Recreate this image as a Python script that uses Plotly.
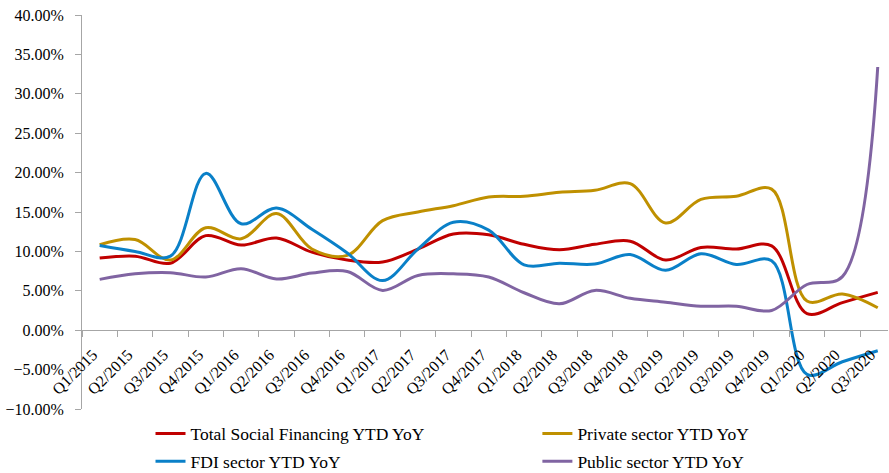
import plotly.graph_objects as go

quarters = [
    "Q1/2015", "Q2/2015", "Q3/2015", "Q4/2015",
    "Q1/2016", "Q2/2016", "Q3/2016", "Q4/2016",
    "Q1/2017", "Q2/2017", "Q3/2017", "Q4/2017",
    "Q1/2018", "Q2/2018", "Q3/2018", "Q4/2018",
    "Q1/2019", "Q2/2019", "Q3/2019", "Q4/2019",
    "Q1/2020", "Q2/2020", "Q3/2020",
]

# YTD year-on-year growth, in percent
total_social_financing = [9.15, 9.4, 8.5, 12.0, 10.8, 11.7, 9.9, 8.9, 8.65, 10.3, 12.2, 12.1,
                          10.9, 10.2, 10.9, 11.3, 8.9, 10.5, 10.3, 10.7, 2.1, 3.5, 4.8]
private_sector = [10.85, 11.5, 8.9, 13.0, 11.6, 14.8, 10.3, 9.5, 13.9, 15.0, 15.8, 16.9,
                  17.0, 17.5, 17.75, 18.6, 13.6, 16.6, 17.0, 17.9, 3.7, 4.6, 2.85]
fdi_sector = [10.75, 10.0, 9.4, 19.9, 13.5, 15.5, 12.8, 9.8, 6.3, 10.3, 13.7, 12.7,
              8.3, 8.5, 8.4, 9.6, 7.6, 9.7, 8.35, 8.8, -5.6, -4.0, -2.6]
public_sector = [6.45, 7.15, 7.3, 6.75, 7.8, 6.5, 7.25, 7.45, 5.05, 6.95, 7.15, 6.75,
                 4.75, 3.35, 5.05, 4.05, 3.55, 3.05, 3.05, 2.5, 5.8, 6.8, 33.4]

series = [
    ("Total Social Financing YTD YoY", total_social_financing, "#C00000", "legend", "a"),
    ("Private sector YTD YoY", private_sector, "#BF9000", "legend2", "b"),
    ("FDI sector YTD YoY", fdi_sector, "#0A80C8", "legend", "c"),
    ("Public sector YTD YoY", public_sector, "#8064A2", "legend2", "d"),
]

FONT = "Liberation Serif, Times New Roman, serif"

fig = go.Figure()
for name, values, color, leg, grp in series:
    fig.add_trace(go.Scatter(
        x=quarters, y=values, name=name, mode="lines",
        line=dict(color=color, width=3, shape="spline", smoothing=1.0),
        legend=leg, legendgroup=grp,
    ))

legend_common = dict(
    orientation="v", xanchor="left", yanchor="top", y=-0.017,
    font=dict(family=FONT, size=17.5, color="#000000"),
    bgcolor="rgba(0,0,0,0)", tracegroupgap=2, traceorder="grouped",
)

fig.update_layout(
    width=889, height=473,
    margin=dict(l=82, r=1, t=15, b=64, autoexpand=False),
    paper_bgcolor="white", plot_bgcolor="white",
    font=dict(family=FONT, size=16, color="#000000"),
    showlegend=True,
    legend=dict(x=0.085, **legend_common),
    legend2=dict(x=0.565, **legend_common),
    xaxis=dict(
        type="category", range=[-0.5, 22.29],
        anchor="free", position=0.2, automargin=False,
        showline=True, linecolor="#A6A6A6", linewidth=1,
        ticks="outside", ticklen=6, tickcolor="#A6A6A6", tickson="boundaries",
        tickangle=-45, ticklabelstandoff=8, ticklabelshift=-7,
        tickfont=dict(family=FONT, size=16, color="#000000"),
        showgrid=False, zeroline=False,
    ),
    yaxis=dict(
        range=[-10, 40], dtick=5, tick0=0, automargin=False,
        tickformat=".2f", ticksuffix="%",
        showline=True, linecolor="#A6A6A6", linewidth=1,
        ticks="outside", ticklen=6, tickcolor="#A6A6A6",
        ticklabelstandoff=8,
        tickfont=dict(family=FONT, size=16, color="#000000"),
        showgrid=False, zeroline=False,
    ),
)

fig.write_html("out.html")
